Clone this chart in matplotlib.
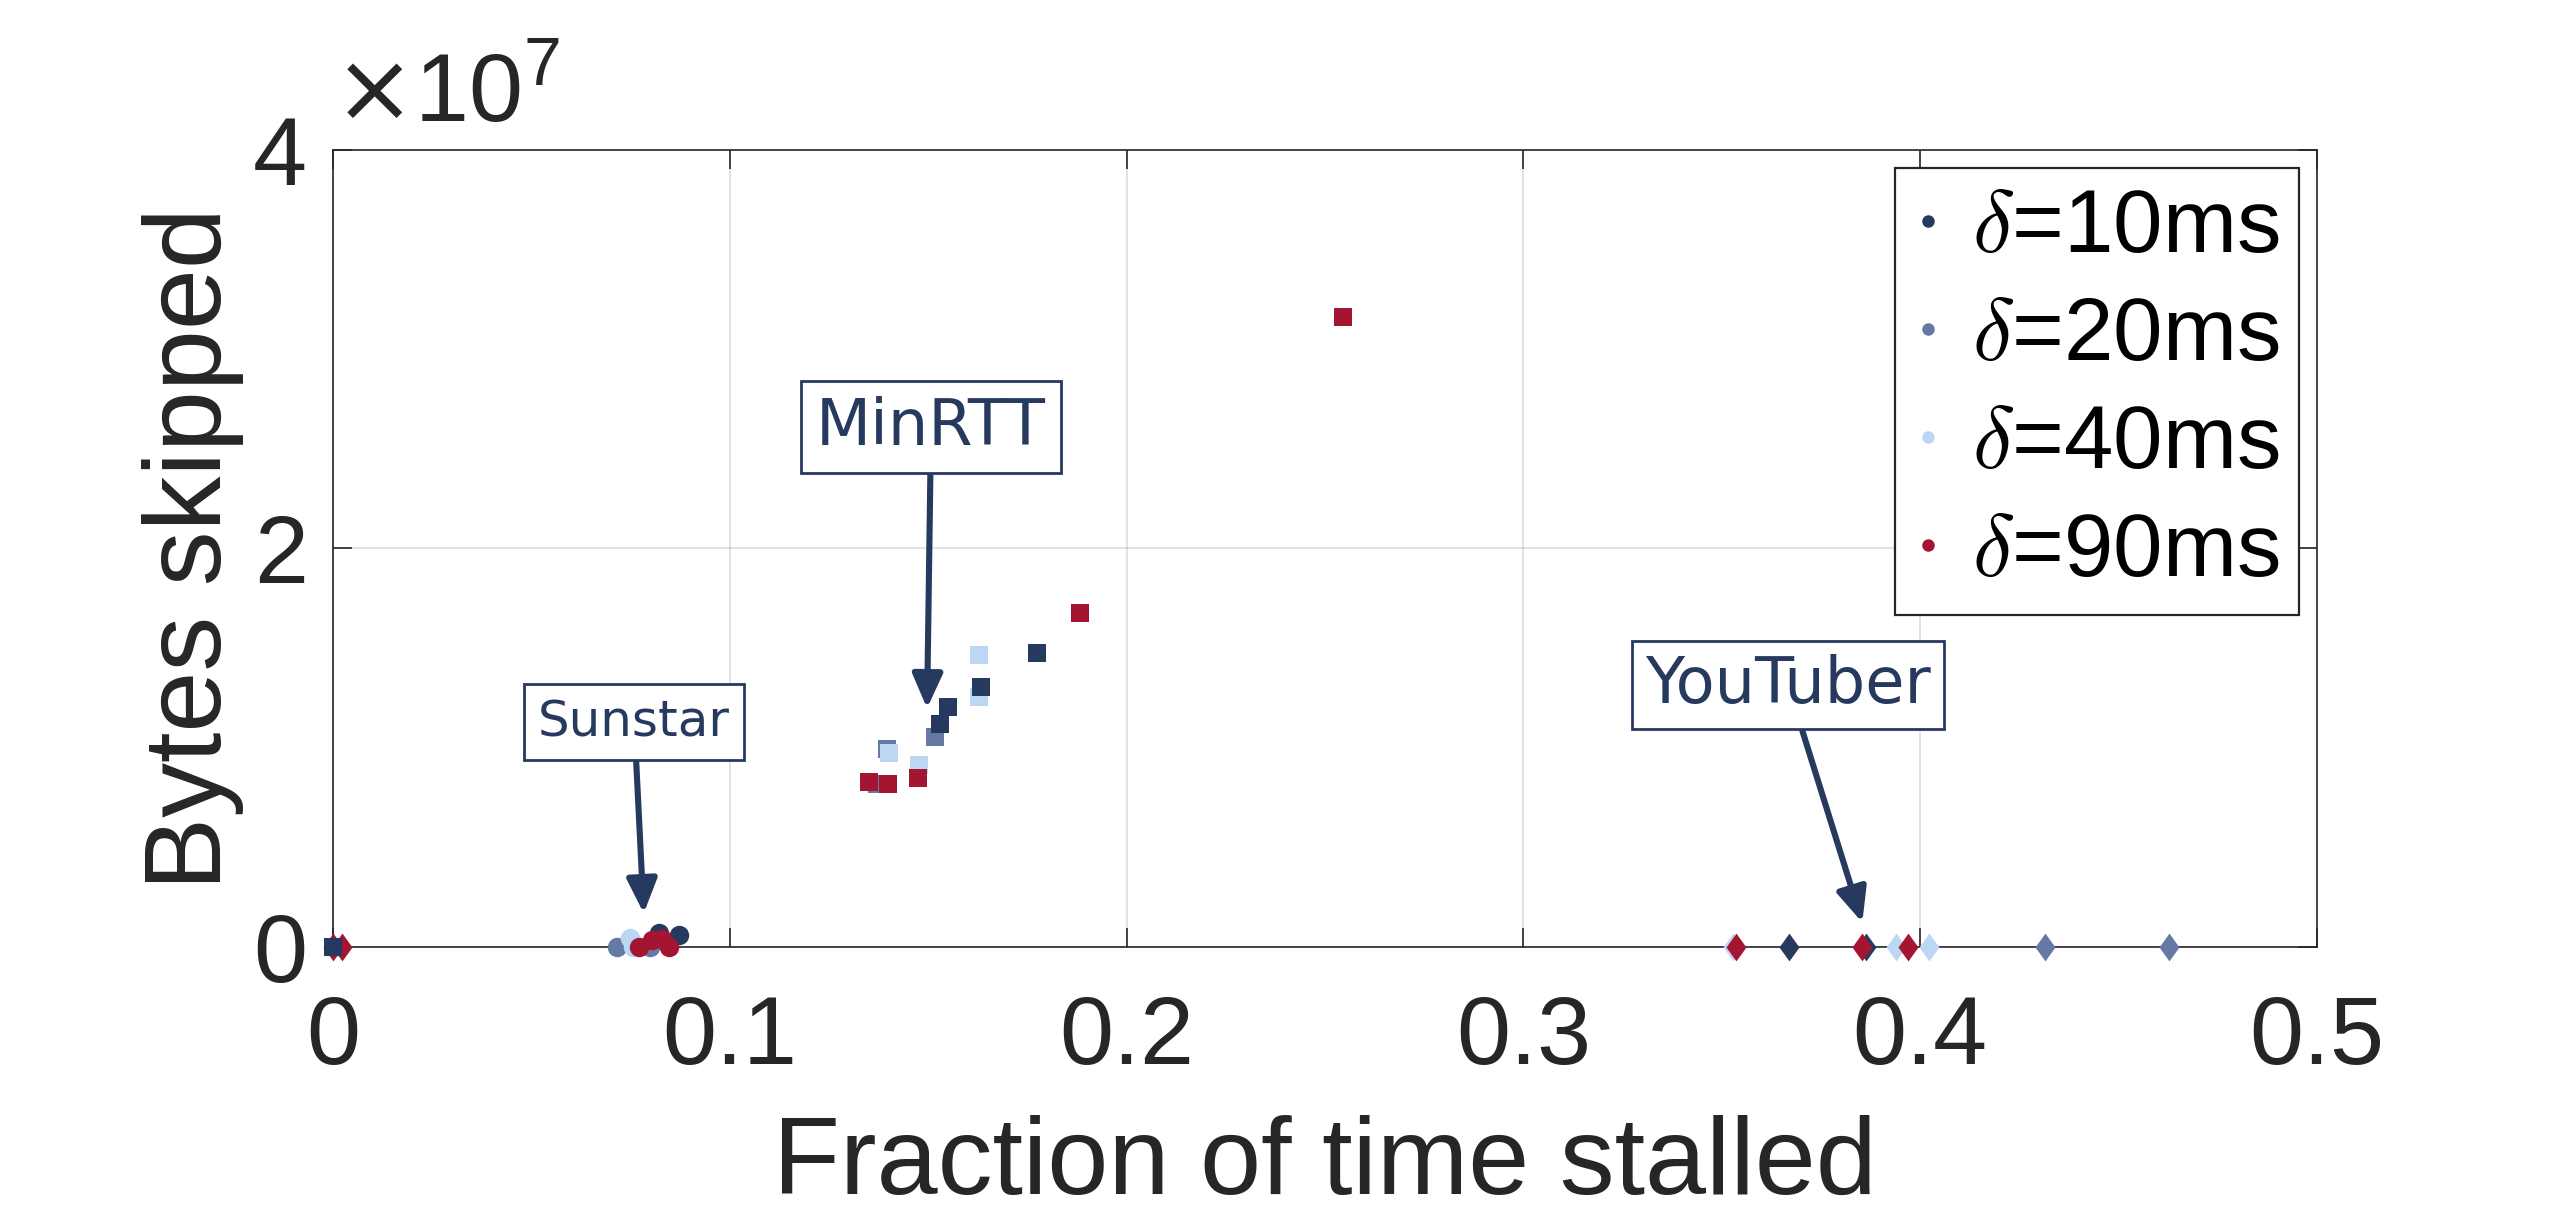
import numpy as np
import matplotlib.pyplot as plt
from matplotlib.lines import Line2D
from matplotlib.path import Path
from matplotlib.font_manager import FontProperties

plt.rcParams['font.family'] = ['Liberation Sans', 'DejaVu Sans']
plt.rcParams['axes.unicode_minus'] = False

# 延迟档位与颜色
delays = ['10ms', '20ms', '40ms', '90ms']
labels = [r'$\delta$=10ms', r'$\delta$=20ms', r'$\delta$=40ms', r'$\delta$=90ms']
colors = {'10ms': '#26395f', '20ms': '#6479a3', '40ms': '#bbd7f3', '90ms': '#a31530'}

# YouTuber (菱形), 跳过字节都是 0
yt_x = {'10ms': [0.3670, 0.3864],
        '20ms': [0.4314, 0.4626],
        '40ms': [0.3528, 0.3938, 0.4022],
        '90ms': [0.0, 0.0023, 0.3536, 0.3853, 0.3969]}
yt_y = {k: [0.0] * len(v) for k, v in yt_x.items()}

# Sunstar (圆点)
ss_x = {'10ms': [0.0821, 0.0871],
        '20ms': [0.0716, 0.0800],
        '40ms': [0.0749, 0.0755],
        '90ms': [0.0770, 0.0804, 0.0846, 0.0830]}
ss_y = {'10ms': [0.67e6, 0.60e6],
        '20ms': [0.0, 0.0],
        '40ms': [0.42e6, 0.0],
        '90ms': [0.0, 0.34e6, 0.0, 0.40e6]}

# MinRTT (方块)
mr_x = {'10ms': [0.0, 0.1529, 0.1549, 0.1634, 0.1774],
        '20ms': [0.1370, 0.1395, 0.1517],
        '40ms': [0.1401, 0.1476, 0.1628, 0.1628],
        '90ms': [0.1350, 0.1398, 0.1474, 0.1882, 0.2545]}
mr_y = {'10ms': [0.0, 1.118e7, 1.202e7, 1.305e7, 1.473e7],
        '20ms': [0.817e7, 0.991e7, 1.054e7],
        '40ms': [0.971e7, 0.912e7, 1.255e7, 1.464e7],
        '90ms': [0.825e7, 0.817e7, 0.845e7, 1.674e7, 3.16e7]}

draw_order = ['20ms', '40ms', '10ms', '90ms']
diamond = Path([(0, 1), (0.72, 0), (0, -1), (-0.72, 0), (0, 1)])

fig = plt.figure(figsize=(12.8, 6.1), dpi=200)
ax = fig.add_axes([0.1301, 0.224, 0.775, 0.653])

for xs, ys, mk, ms in [(yt_x, yt_y, diamond, 10), (ss_x, ss_y, 'o', 7), (mr_x, mr_y, 's', 6.3)]:
    for d in draw_order:
        ax.plot(xs[d], ys[d], linestyle='none', marker=mk, markersize=ms,
                color=colors[d], markeredgewidth=0, clip_on=False, zorder=3)

ax.set_xlim(0, 0.5)
ax.set_ylim(0, 4e7)
ax.set_xticks([0, 0.1, 0.2, 0.3, 0.4, 0.5])
ax.set_xticklabels(['0', '0.1', '0.2', '0.3', '0.4', '0.5'])
ax.set_yticks([0, 2e7, 4e7])
ax.ticklabel_format(axis='y', style='sci', scilimits=(0, 0), useMathText=True)
ax.yaxis.get_offset_text().set_fontsize(35)
ax.yaxis.get_offset_text().set_color('#262626')
ax.yaxis.OFFSETTEXTPAD = 10

ax.tick_params(direction='in', length=6.8, width=0.6, top=True, right=True,
               labelsize=35, colors='#262626')
ax.tick_params(axis='x', pad=17)
ax.tick_params(axis='y', pad=10)
for s in ax.spines.values():
    s.set_color('#262626')
    s.set_linewidth(0.6)
ax.set_axisbelow(True)
ax.grid(True, color='#262626', alpha=0.15, linewidth=0.6)

ax.set_xlabel('Fraction of time stalled', fontsize=39.5, color='#262626', labelpad=11)
ax.set_ylabel('Bytes skipped', fontsize=39.5, color='#262626', labelpad=3)

# 标注框
navy = '#26395f'
notes = [('MinRTT', (0.1497, 1.197e7), (0.1507, 2.609e7), 23, 0.24),
         ('Sunstar', (0.0783, 0.168e7), (0.0759, 1.128e7), 18, 0.28),
         ('YouTuber', (0.3854, 0.122e7), (0.3667, 1.313e7), 23, 0.2)]
for txt, tip, pos, fs, pad in notes:
    ax.annotate(txt, xy=tip, xytext=pos, ha='center', va='center',
                fontsize=fs, color=navy, family='DejaVu Sans', zorder=5,
                bbox=dict(boxstyle='square,pad=%s' % pad, fc='white', ec=navy, lw=1.0),
                arrowprops=dict(arrowstyle='-|>,head_length=0.45,head_width=0.2',
                                mutation_scale=23, color=navy, lw=2.2,
                                shrinkA=0, shrinkB=0))

# 图例
handles = [Line2D([], [], linestyle='none', marker='o', markersize=4.5,
                  markeredgewidth=0, color=colors[d]) for d in delays]
leg = ax.legend(handles, labels, loc='upper right', borderaxespad=0.2,
                prop=FontProperties(family='Liberation Sans', size=32, math_fontfamily='cm'),
                frameon=True, fancybox=False, framealpha=1, edgecolor='#262626',
                handlelength=0.3, handletextpad=0.35, borderpad=0.22, labelspacing=0.27)
leg.get_frame().set_linewidth(0.8)
leg.set_zorder(6)

fig.savefig('out.png', dpi=200)
